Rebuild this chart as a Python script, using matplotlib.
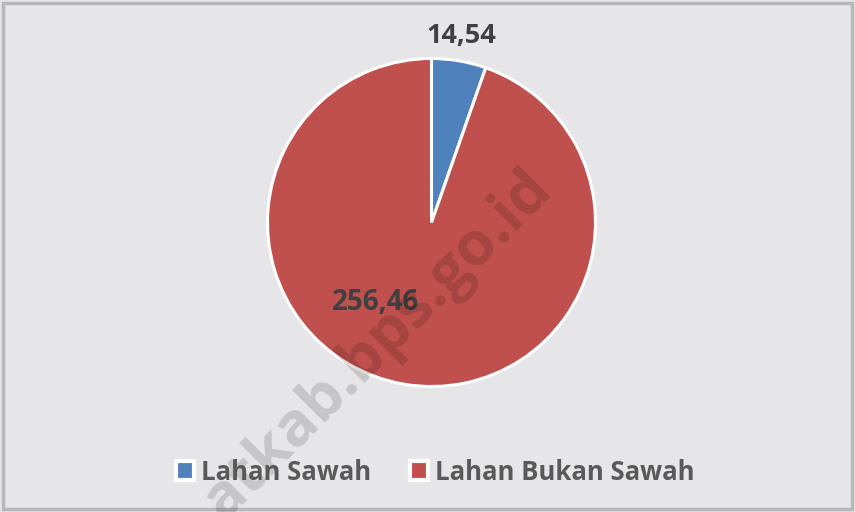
import matplotlib
matplotlib.use('Agg')
import matplotlib.pyplot as plt
from matplotlib.patches import Rectangle

categories = ['Lahan Sawah', 'Lahan Bukan Sawah']
values = [14.54, 256.46]
value_labels = ['14,54', '256,46']
colors = ['#4f81bd', '#c0504d']

plt.rcParams['font.family'] = ['Open Sans', 'DejaVu Sans']

fig = plt.figure(figsize=(8.55, 5.12), dpi=100)
fig.patch.set_facecolor('#e6e6e8')

# frame
fig.patches.append(Rectangle((0.004, 0.006), 0.992, 0.988, transform=fig.transFigure,
                             fill=False, edgecolor='#b8b8bc', linewidth=2.5))

# pie axes: centre ~ (431, 222), radius ~ 164 px
r = 164
cx, cy = 431.5, 512 - 222.5
ax = fig.add_axes([(cx - r) / 855, (cy - r) / 512, 2 * r / 855, 2 * r / 512])
wedges, _ = ax.pie(values, colors=colors, startangle=90, counterclock=False,
                   wedgeprops={'edgecolor': 'white', 'linewidth': 2.2})
ax.set_aspect('equal')
ax.set_xlim(-1.0, 1.0)
ax.set_ylim(-1.0, 1.0)

fig.text(461 / 855, 1 - 36 / 512, value_labels[0], ha='center', va='center',
         fontsize=19.5, fontweight='bold', color='#404040')
fig.text(376 / 855, 1 - 302 / 512, value_labels[1], ha='center', va='center',
         fontsize=20, fontweight='bold', color='#404040')

leg = fig.legend(wedges, categories, loc='center', bbox_to_anchor=(435 / 855, 1 - 472 / 512),
                 ncol=2, frameon=False, handlelength=0.72, handleheight=0.72,
                 handletextpad=0.25, columnspacing=1.5, borderaxespad=0,
                 prop={'size': 18.5, 'weight': 'bold'})
for t in leg.get_texts():
    t.set_color('#595959')
for h in leg.legend_handles:
    h.set_edgecolor('white')
    h.set_linewidth(3)

# watermark
fig.text(378 / 855, 1 - 345 / 512, 'atkab.bps.go.id', rotation=45, ha='center', va='center',
         fontsize=44, fontweight='bold', color='black', alpha=0.14)

fig.savefig('out.png', dpi=100, facecolor=fig.get_facecolor())
